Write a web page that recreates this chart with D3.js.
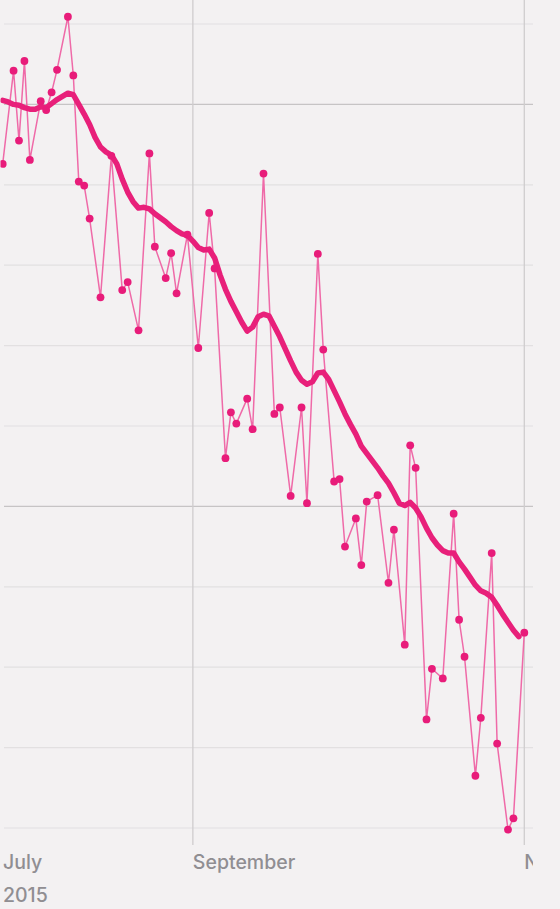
<!DOCTYPE html>
<html>
<head>
<meta charset="utf-8">
<script src="https://cdn.jsdelivr.net/npm/d3@7"></script>
<style>
  html, body { margin: 0; padding: 0; background: #f3f1f2; }
  svg { display: block; }
  text { font-family: Inter, "Noto Sans", sans-serif; }
</style>
</head>
<body>
<div id="chart"></div>
<script>
// ---- data ----
const pointDates = [
  "2015-07-28","2015-07-30","2015-07-31","2015-08-01","2015-08-02","2015-08-04","2015-08-05","2015-08-06",
  "2015-08-07","2015-08-09","2015-08-10","2015-08-11","2015-08-12","2015-08-13","2015-08-15","2015-08-17",
  "2015-08-19","2015-08-20","2015-08-22","2015-08-24","2015-08-25","2015-08-27","2015-08-28","2015-08-29",
  "2015-08-31","2015-09-02","2015-09-04","2015-09-05","2015-09-07","2015-09-08","2015-09-09","2015-09-11",
  "2015-09-12","2015-09-14","2015-09-16","2015-09-17","2015-09-19","2015-09-21","2015-09-22","2015-09-24",
  "2015-09-25","2015-09-27","2015-09-28","2015-09-29","2015-10-01","2015-10-02","2015-10-03","2015-10-05",
  "2015-10-07","2015-10-08","2015-10-10","2015-10-11","2015-10-12","2015-10-14","2015-10-15","2015-10-17",
  "2015-10-19","2015-10-20","2015-10-21","2015-10-23","2015-10-24","2015-10-26","2015-10-27","2015-10-29",
  "2015-10-30","2015-11-01"
];
const pointValues = [
  92.6,104.2,95.5,105.4,93.1,100.4,99.3,101.5,
  104.3,110.9,103.6,90.4,89.9,85.8,76.0,93.6,
  76.9,77.9,71.9,93.9,82.3,78.4,81.5,76.5,
  83.8,69.7,86.5,79.6,56.0,61.7,60.3,63.4,
  59.6,91.4,61.5,62.3,51.3,62.3,50.4,81.4,
  69.5,53.1,53.4,45.0,48.5,42.7,50.6,51.4,
  40.5,47.1,32.8,57.6,54.8,23.5,29.8,28.6,
  49.1,35.9,31.3,16.5,23.7,44.2,20.5,9.8,
  11.2,34.3
];
const trendStart = "2015-07-28";
const trendValues = [
  100.5,100.3,100.0,99.9,99.6,99.4,99.4,99.7,99.6,100.1,
  100.6,101.0,101.4,101.2,100.0,98.8,97.5,95.9,94.7,94.1,
  93.7,92.6,90.7,89.1,87.9,87.1,87.2,87.0,86.4,85.9,
  85.4,84.8,84.3,83.9,83.7,83.0,82.2,81.9,82.0,80.9,
  78.8,77.0,75.5,74.2,72.9,71.8,72.3,73.6,73.9,73.7,
  72.4,71.1,69.6,68.1,66.7,65.7,65.2,65.5,66.6,66.7,
  65.8,64.4,63.0,61.5,60.2,59.0,57.5,56.6,55.7,54.8,
  53.8,52.9,51.7,50.4,50.1,50.5,49.8,48.7,47.3,46.1,
  45.2,44.5,44.2,44.2,43.1,42.2,41.2,40.2,39.5,39.2,
  38.7,37.7,36.6,35.6,34.6,33.8
];
const gridValues = [10,20,30,40,50,60,70,80,90,100,110];
const majorGridValues = [50,100];
const monthTicks = ["2015-09-01","2015-11-01"];
const monthLabels = ["September","November"];
const stickyMonth = "July";
const yearLabel = "2015";

// ---- layout ----
const W = 560, H = 909;
const parse = d3.utcParse("%Y-%m-%d");
const points = pointDates.map((d,i)=>({date: parse(d), value: pointValues[i]}));
const t0 = parse(trendStart);
const trend = trendValues.map((v,i)=>({date: d3.utcDay.offset(t0, i), value: v}));

const x = d3.scaleUtc().domain([parse("2015-07-28"), parse("2015-11-01")]).range([2.7, 524.3]);
const y = d3.scaleLinear().domain([10,110]).range([828,24]);

const svg = d3.select("#chart").append("svg").attr("width", W).attr("height", H);
svg.append("rect").attr("width", W).attr("height", H).attr("fill", "#f3f1f2");

const defs = svg.append("defs");
defs.append("clipPath").attr("id","plotclip").append("rect")
  .attr("x", 0.5).attr("y", 0).attr("width", 532.5).attr("height", H);

const plot = svg.append("g").attr("clip-path","url(#plotclip)");

// horizontal grid
plot.append("g").selectAll("line").data(gridValues).join("line")
  .attr("x1", 4).attr("x2", 533)
  .attr("y1", d=>y(d)).attr("y2", d=>y(d))
  .attr("stroke", d=>majorGridValues.includes(d) ? "#c6c4c5" : "#e2e0e1")
  .attr("stroke-width", 1.2);

// vertical month lines
plot.append("g").selectAll("line").data(monthTicks).join("line")
  .attr("x1", d=>x(parse(d))).attr("x2", d=>x(parse(d)))
  .attr("y1", 0).attr("y2", 845)
  .attr("stroke", "#cfcdce").attr("stroke-width", 1.3);

// daily thin line
plot.append("path").datum(points)
  .attr("fill","none").attr("stroke","#ef6aa8").attr("stroke-width",1.5)
  .attr("stroke-linejoin","round")
  .attr("d", d3.line().x(d=>x(d.date)).y(d=>y(d.value)));

// trend line
plot.append("path").datum(trend)
  .attr("fill","none").attr("stroke","#e8207a").attr("stroke-width",5.5)
  .attr("stroke-linejoin","round").attr("stroke-linecap","round")
  .attr("d", d3.line().x(d=>x(d.date)).y(d=>y(d.value)));

// dots
plot.append("g").selectAll("circle").data(points).join("circle")
  .attr("cx", d=>x(d.date)).attr("cy", d=>y(d.value)).attr("r", 3.9)
  .attr("fill", "#e81c7a");

// month labels (the chart viewport clips the next month label, as in the source)
const lab = svg.append("g").attr("clip-path","url(#plotclip)")
  .attr("fill","#908e92").attr("font-size","19.5px").attr("font-weight",500);
lab.append("text").attr("x", 3).attr("y", 869).text(stickyMonth);
lab.selectAll("text.m").data(monthTicks).join("text").attr("class","m")
  .attr("x", d=>x(parse(d))).attr("y", 869).text((d,i)=>monthLabels[i]);
svg.append("text").attr("x", 3).attr("y", 902)
  .attr("fill","#908e92").attr("font-size","19.5px").attr("font-weight",500)
  .text(yearLabel);
</script>
</body>
</html>
